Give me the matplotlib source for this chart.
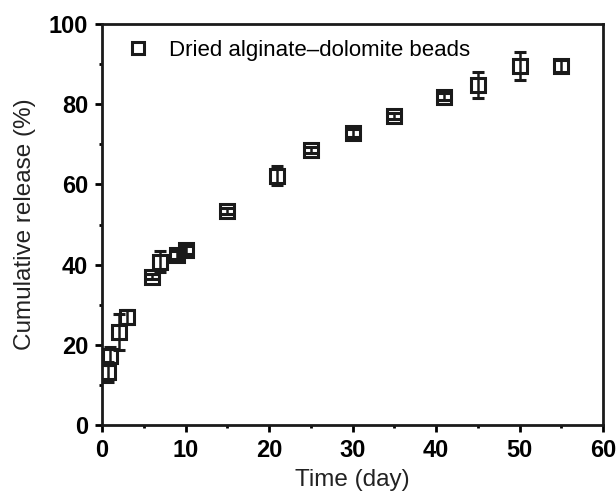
import matplotlib
matplotlib.use('Agg')
from matplotlib import pyplot
from matplotlib.ticker import MultipleLocator

pyplot.rcParams['font.family'] = ['Liberation Sans', 'DejaVu Sans']

# release data
time_day = [0.75, 1, 2, 3, 6, 7, 9, 10, 15, 21, 25, 30, 35, 41, 45, 50, 55]
release = [13.3, 17.2, 23.3, 27.0, 37.0, 40.7, 42.4, 43.6, 53.4, 62.2,
           68.6, 72.7, 77.1, 81.9, 84.8, 89.5, 89.5]
release_err = [2.5, 2.3, 4.5, 1.8, 0.6, 2.6, 1.0, 1.0, 0.8, 2.4,
               0.8, 1.0, 0.8, 0.8, 3.2, 3.5, 1.4]

fig = pyplot.figure(figsize = (6.16, 4.96), dpi = 100)
ax = fig.add_axes([0.1656, 0.1431, 0.8134, 0.8085])

eb = ax.errorbar(time_day, release, yerr = release_err, fmt = 's', markersize = 10,
                 markerfacecolor = 'none', markeredgecolor = '#1a1a1a', markeredgewidth = 2.2,
                 ecolor = '#1a1a1a', elinewidth = 1.8, capsize = 4.5, capthick = 1.8)

ax.set_xlim(0, 60)
ax.set_ylim(0, 100)
ax.xaxis.set_major_locator(MultipleLocator(10))
ax.xaxis.set_minor_locator(MultipleLocator(5))
ax.yaxis.set_major_locator(MultipleLocator(20))
ax.yaxis.set_minor_locator(MultipleLocator(10))
ax.tick_params(which = 'major', direction = 'out', length = 5, width = 2, labelsize = 17, pad = 5)
ax.tick_params(which = 'minor', direction = 'out', length = 2.5, width = 2)
for lab in ax.get_xticklabels() + ax.get_yticklabels():
    lab.set_fontweight('bold')
for s in ax.spines.values():
    s.set_linewidth(2)
    s.set_color('#1a1a1a')

ax.set_xlabel('Time (day)', fontsize = 17.5, labelpad = 5, color = '#222222')
ax.set_ylabel('Cumulative release (%)', fontsize = 17.5, labelpad = 9, color = '#222222')

ax.legend([eb.lines[0]], ['Dried alginate\u2013dolomite beads'], loc = 'upper left',
          frameon = False, fontsize = 16, handletextpad = 0.5, borderaxespad = 0.3,
          markerscale = 0.9, numpoints = 1, handlelength = 1.8)

fig.savefig('out.png', dpi = 100)
